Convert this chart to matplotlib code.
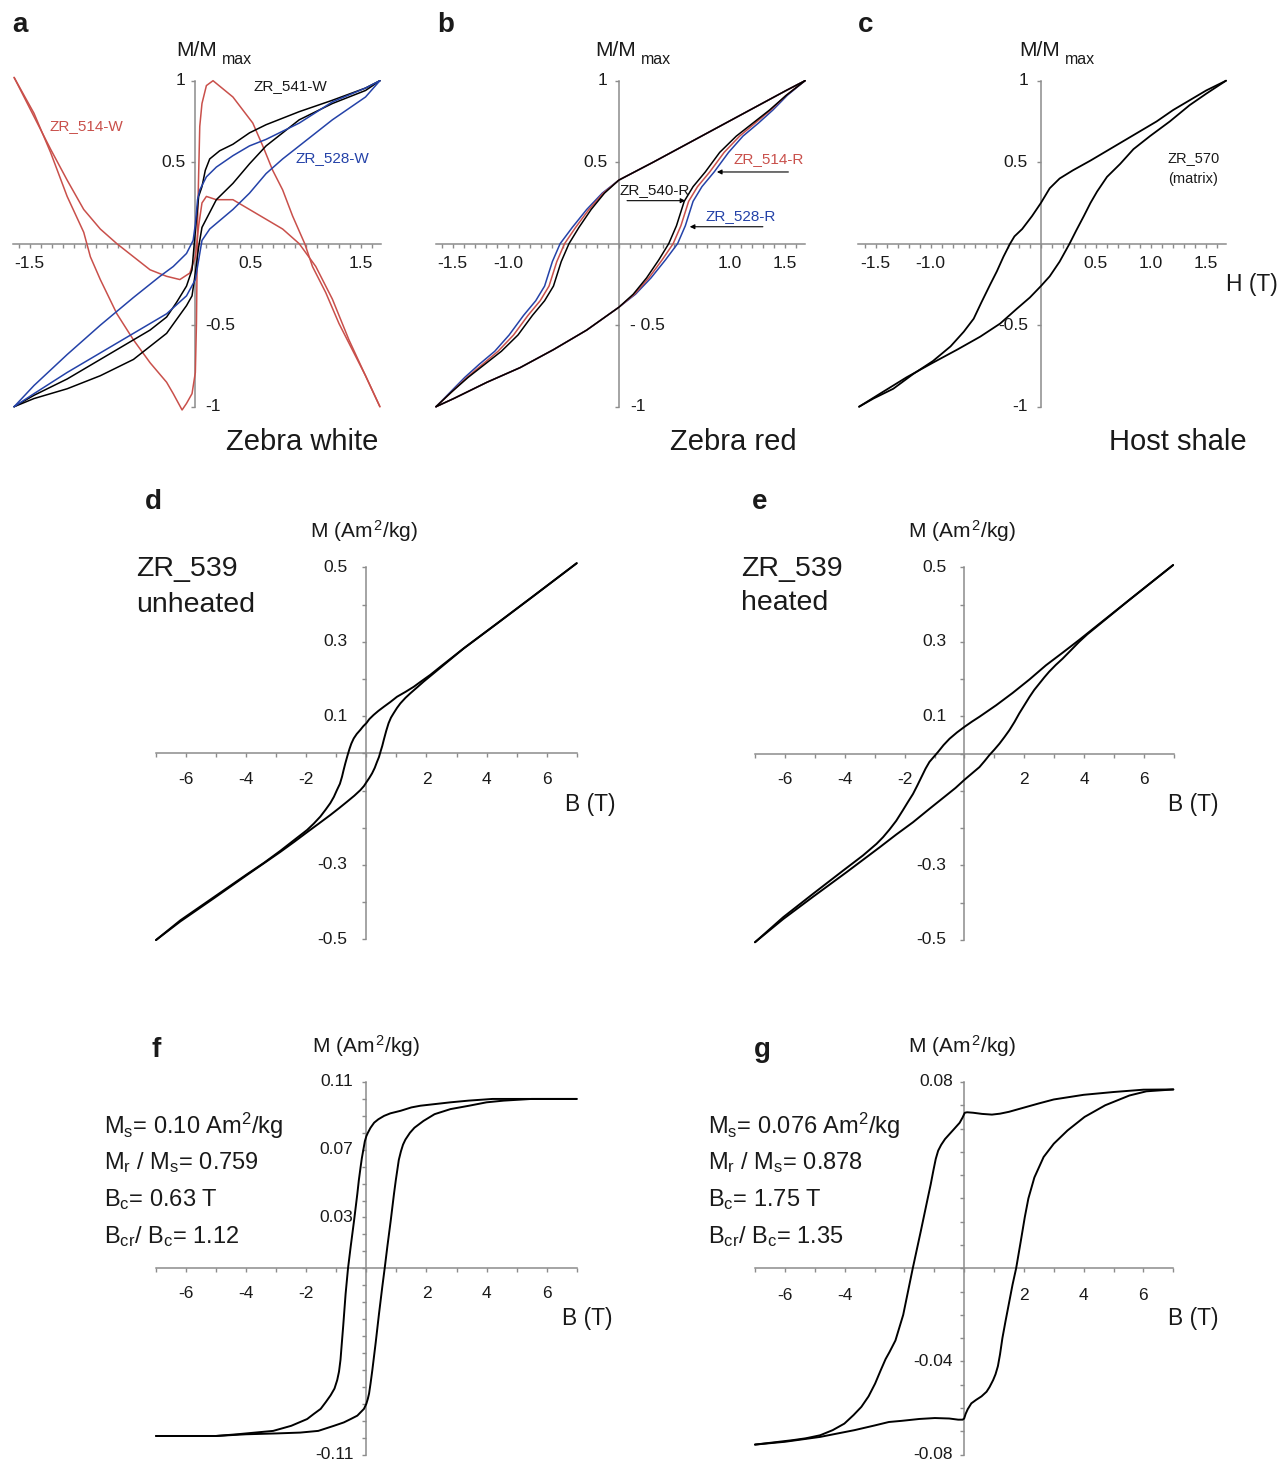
import matplotlib
matplotlib.use('Agg')
import matplotlib.pyplot as plt
import numpy as np
from matplotlib.ticker import FixedLocator, NullFormatter

plt.rcParams['font.family'] = ['Liberation Sans', 'DejaVu Sans']
plt.rcParams['mathtext.fontset'] = 'custom'
plt.rcParams['mathtext.rm'] = 'Liberation Sans'
plt.rcParams['mathtext.it'] = 'Liberation Sans:italic'
plt.rcParams['mathtext.bf'] = 'Liberation Sans:bold'

# ---------------- data ----------------
# Panel a : Zebra white (normalised)
a_black_up_x = [1.67, 1.54, 1.24, 0.94, 0.64, 0.49, 0.34, 0.22, 0.13, 0.09, 0.06, 0.03, 0.01, -0.01, -0.03, -0.08, -0.17, -0.26, -0.41, -0.56, -0.86, -1.16, -1.46, -1.64]
a_black_up_y = [1.0, 0.955, 0.88, 0.81, 0.73, 0.68, 0.61, 0.57, 0.52, 0.45, 0.35, 0.29, 0.15, 0.0, -0.16, -0.26, -0.36, -0.45, -0.53, -0.59, -0.71, -0.83, -0.93, -1.0]
a_black_lo_x = [-1.64, -1.46, -1.16, -0.86, -0.56, -0.26, -0.08, -0.03, 0.0, 0.03, 0.06, 0.19, 0.34, 0.49, 0.64, 0.94, 1.24, 1.54, 1.67]
a_black_lo_y = [-1.0, -0.95, -0.89, -0.81, -0.71, -0.55, -0.38, -0.32, -0.18, -0.02, 0.1, 0.27, 0.37, 0.49, 0.6, 0.76, 0.86, 0.94, 1.0]
a_blue_up_x = [1.67, 1.54, 1.24, 0.94, 0.64, 0.49, 0.34, 0.19, 0.1, 0.04, 0.02, 0.0, -0.02, -0.08, -0.2, -0.32, -0.56, -0.86, -1.16, -1.46, -1.64]
a_blue_up_y = [1.0, 0.955, 0.87, 0.74, 0.64, 0.6, 0.54, 0.47, 0.41, 0.33, 0.27, 0.12, 0.02, -0.06, -0.14, -0.2, -0.33, -0.5, -0.68, -0.87, -1.0]
a_blue_lo_x = [-1.64, -1.46, -1.16, -0.86, -0.56, -0.26, -0.08, 0.0, 0.03, 0.06, 0.13, 0.34, 0.49, 0.64, 0.79, 0.94, 1.24, 1.54, 1.67]
a_blue_lo_y = [-1.0, -0.92, -0.79, -0.67, -0.55, -0.43, -0.32, -0.22, -0.1, 0.02, 0.09, 0.21, 0.31, 0.43, 0.52, 0.6, 0.76, 0.9, 1.0]
a_red_a_x = [1.67, 1.54, 1.42, 1.3, 1.18, 1.06, 0.99, 0.88, 0.79, 0.7, 0.61, 0.52, 0.43, 0.34, 0.25, 0.16, 0.1, 0.06, 0.04, 0.03, 0.02, 0.015, 0.01, 0.0, -0.03, -0.08, -0.12, -0.2, -0.26, -0.41, -0.56, -0.71, -0.86, -0.95, -1.01, -1.16, -1.31, -1.46, -1.64]
a_red_a_y = [-1.0, -0.81, -0.65, -0.49, -0.3, -0.14, 0.0, 0.17, 0.33, 0.45, 0.6, 0.74, 0.82, 0.9, 0.95, 1.0, 0.97, 0.86, 0.72, 0.43, 0.13, -0.18, -0.49, -0.79, -0.92, -0.98, -1.02, -0.92, -0.85, -0.73, -0.59, -0.43, -0.22, -0.08, 0.07, 0.29, 0.56, 0.8, 1.02]
a_red_b_x = [-1.64, -1.46, -1.31, -1.16, -1.01, -0.86, -0.71, -0.56, -0.41, -0.26, -0.14, -0.05, 0.0, 0.03, 0.06, 0.1, 0.19, 0.34, 0.49, 0.64, 0.79, 0.94, 1.09, 1.24, 1.39, 1.54, 1.67]
a_red_b_y = [1.02, 0.78, 0.58, 0.39, 0.21, 0.09, 0.0, -0.08, -0.16, -0.2, -0.22, -0.18, -0.08, 0.11, 0.25, 0.29, 0.27, 0.27, 0.21, 0.15, 0.09, 0.0, -0.14, -0.34, -0.59, -0.81, -1.0]

# Panel b : Zebra red (normalised)
b_up_y = [1.0, 0.94, 0.83, 0.72, 0.61, 0.5, 0.39, 0.31, 0.21, 0.1, 0.0, -0.11, -0.26, -0.35, -0.44, -0.56, -0.66, -0.74, -0.82, -0.91, -1.0]
b_black_up_x = [1.68, 1.51, 1.21, 0.91, 0.61, 0.31, 0.0, -0.13, -0.25, -0.36, -0.45, -0.52, -0.59, -0.67, -0.78, -0.91, -1.06, -1.21, -1.36, -1.51, -1.65]
b_red_up_x = [1.68, 1.51, 1.21, 0.91, 0.61, 0.31, 0.0, -0.14, -0.27, -0.39, -0.49, -0.56, -0.63, -0.71, -0.82, -0.95, -1.09, -1.23, -1.37, -1.51, -1.65]
b_blue_up_x = [1.68, 1.51, 1.21, 0.91, 0.61, 0.31, 0.0, -0.15, -0.29, -0.42, -0.53, -0.6, -0.67, -0.75, -0.86, -0.99, -1.12, -1.26, -1.39, -1.52, -1.65]
b_lo_y = [-1.0, -0.95, -0.85, -0.76, -0.65, -0.53, -0.39, -0.31, -0.21, -0.1, 0.0, 0.11, 0.26, 0.35, 0.44, 0.56, 0.66, 0.74, 0.82, 0.91, 1.0]
b_black_lo_x = [-1.65, -1.49, -1.19, -0.89, -0.59, -0.29, 0.0, 0.13, 0.25, 0.36, 0.45, 0.52, 0.59, 0.67, 0.78, 0.91, 1.06, 1.21, 1.36, 1.51, 1.68]
b_red_lo_x = [-1.65, -1.49, -1.19, -0.89, -0.59, -0.29, 0.0, 0.14, 0.27, 0.39, 0.49, 0.56, 0.63, 0.71, 0.82, 0.95, 1.09, 1.23, 1.37, 1.51, 1.68]
b_blue_lo_x = [-1.65, -1.49, -1.19, -0.89, -0.59, -0.29, 0.0, 0.15, 0.29, 0.42, 0.53, 0.6, 0.67, 0.75, 0.86, 0.99, 1.12, 1.26, 1.39, 1.52, 1.68]

# Panel c : Host shale (normalised)
c_up_x = [1.68, 1.5, 1.35, 1.2, 1.05, 0.9, 0.75, 0.6, 0.45, 0.29, 0.17, 0.08, 0.0, -0.08, -0.17, -0.24, -0.28, -0.34, -0.4, -0.46, -0.54, -0.61, -0.7, -0.82, -0.98, -1.16, -1.34, -1.52, -1.65]
c_up_y = [1.0, 0.94, 0.88, 0.82, 0.75, 0.69, 0.63, 0.57, 0.51, 0.45, 0.4, 0.34, 0.25, 0.17, 0.09, 0.045, 0.0, -0.08, -0.17, -0.25, -0.36, -0.46, -0.54, -0.63, -0.72, -0.8, -0.89, -0.95, -1.0]
c_lo_x = [-1.65, -1.46, -1.22, -0.98, -0.76, -0.55, -0.37, -0.22, -0.1, 0.0, 0.08, 0.17, 0.26, 0.32, 0.39, 0.45, 0.51, 0.6, 0.72, 0.84, 0.99, 1.17, 1.35, 1.5, 1.68]
c_lo_y = [-1.0, -0.92, -0.82, -0.73, -0.65, -0.57, -0.49, -0.4, -0.33, -0.26, -0.2, -0.11, 0.0, 0.08, 0.17, 0.25, 0.32, 0.41, 0.49, 0.58, 0.66, 0.75, 0.85, 0.92, 1.0]

# Panel d : ZR_539 unheated (Am2/kg)
d_up_x = [7.0, 5.5, 4.35, 3.24, 2.5, 2.13, 1.8, 1.58, 1.3, 1.02, 0.8, 0.58, 0.4, 0.24, 0.1, 0.0, -0.1, -0.2, -0.32, -0.42, -0.5, -0.56, -0.62, -0.7, -0.76, -0.81, -0.88, -0.98, -1.08, -1.2, -1.36, -1.53, -1.75, -1.97, -2.4, -2.86, -3.4, -3.97, -5.08, -6.19, -7.0]
d_up_y = [0.511, 0.419, 0.349, 0.282, 0.235, 0.211, 0.192, 0.179, 0.165, 0.152, 0.138, 0.125, 0.114, 0.103, 0.092, 0.081, 0.073, 0.063, 0.052, 0.04, 0.026, 0.012, -0.004, -0.027, -0.046, -0.063, -0.082, -0.099, -0.117, -0.134, -0.152, -0.17, -0.189, -0.206, -0.233, -0.262, -0.294, -0.325, -0.387, -0.449, -0.502]
d_lo_x = [-7.0, -6.19, -5.08, -3.97, -2.86, -2.4, -1.97, -1.6, -1.2, -0.9, -0.64, -0.4, -0.2, -0.08, 0.0, 0.1, 0.19, 0.28, 0.35, 0.42, 0.47, 0.53, 0.58, 0.66, 0.74, 0.82, 0.91, 1.02, 1.13, 1.3, 1.46, 1.7, 1.91, 2.24, 3.24, 4.35, 5.5, 7.0]
d_lo_y = [-0.502, -0.452, -0.39, -0.327, -0.265, -0.238, -0.212, -0.19, -0.166, -0.147, -0.13, -0.114, -0.099, -0.088, -0.078, -0.066, -0.054, -0.039, -0.024, -0.01, 0.004, 0.02, 0.036, 0.06, 0.081, 0.096, 0.108, 0.122, 0.134, 0.149, 0.161, 0.178, 0.193, 0.215, 0.282, 0.349, 0.419, 0.511]

# Panel e : ZR_539 heated (Am2/kg)
e_up_x = [6.97, 5.5, 4.39, 3.83, 3.28, 2.72, 2.17, 1.61, 1.06, 0.5, 0.25, 0.0, -0.25, -0.5, -0.7, -0.89, -1.03, -1.17, -1.3, -1.44, -1.58, -1.72, -1.9, -2.06, -2.28, -2.5, -2.72, -2.94, -3.39, -4.06, -5.06, -6.06, -7.0]
e_up_y = [0.506, 0.412, 0.341, 0.305, 0.271, 0.237, 0.199, 0.163, 0.13, 0.099, 0.086, 0.072, 0.057, 0.04, 0.023, 0.004, -0.009, -0.022, -0.04, -0.063, -0.086, -0.108, -0.131, -0.152, -0.18, -0.203, -0.224, -0.242, -0.273, -0.314, -0.376, -0.439, -0.506]
e_lo_x = [-7.0, -6.06, -5.06, -3.94, -2.83, -2.28, -1.72, -1.17, -0.61, -0.3, 0.0, 0.25, 0.5, 0.67, 0.83, 1.0, 1.17, 1.33, 1.5, 1.67, 1.83, 2.0, 2.17, 2.33, 2.5, 2.67, 2.83, 3.05, 3.28, 3.55, 3.83, 4.1, 4.39, 5.5, 6.97]
e_lo_y = [-0.506, -0.444, -0.384, -0.318, -0.251, -0.217, -0.184, -0.148, -0.112, -0.092, -0.07, -0.053, -0.036, -0.02, -0.004, 0.011, 0.027, 0.044, 0.063, 0.085, 0.108, 0.13, 0.152, 0.171, 0.188, 0.205, 0.22, 0.238, 0.255, 0.277, 0.3, 0.32, 0.339, 0.412, 0.506]

# Panel f : unheated, paramagnetic-corrected (Am2/kg)
f_up_x = [7.0, 5.0, 4.2, 3.4, 2.8, 2.3, 1.8, 1.5, 1.14, 0.8, 0.59, 0.4, 0.26, 0.14, 0.05, 0.0, -0.05, -0.1, -0.15, -0.19, -0.25, -0.3, -0.41, -0.52, -0.61, -0.69, -0.77, -0.82, -0.86, -0.91, -0.97, -1.06, -1.19, -1.35, -1.52, -1.75, -1.97, -2.5, -3.1, -3.7, -4.3, -5.0, -7.0]
f_up_y = [0.1, 0.1, 0.1, 0.099, 0.098, 0.097, 0.096, 0.095, 0.093, 0.0915, 0.09, 0.088, 0.086, 0.083, 0.08, 0.078, 0.075, 0.07, 0.065, 0.06, 0.052, 0.044, 0.028, 0.013, 0.0, -0.015, -0.034, -0.045, -0.054, -0.061, -0.066, -0.071, -0.075, -0.079, -0.083, -0.086, -0.089, -0.093, -0.096, -0.097, -0.098, -0.099, -0.099]
f_lo_x = [-7.0, -5.0, -4.0, -3.0, -2.2, -1.6, -1.08, -0.75, -0.52, -0.3, -0.19, -0.08, 0.0, 0.05, 0.09, 0.14, 0.2, 0.31, 0.42, 0.53, 0.61, 0.7, 0.81, 0.92, 0.98, 1.03, 1.08, 1.15, 1.22, 1.3, 1.45, 1.6, 1.9, 2.27, 2.8, 3.42, 4.0, 4.57, 5.5, 7.0]
f_lo_y = [-0.099, -0.099, -0.098, -0.0975, -0.097, -0.096, -0.093, -0.091, -0.089, -0.087, -0.085, -0.083, -0.08, -0.077, -0.074, -0.068, -0.06, -0.044, -0.027, -0.011, 0.0, 0.013, 0.028, 0.044, 0.052, 0.058, 0.064, 0.069, 0.073, 0.076, 0.08, 0.083, 0.087, 0.091, 0.094, 0.096, 0.098, 0.099, 0.1, 0.1]

# Panel g : heated, paramagnetic-corrected (Am2/kg)
g_up_x = [7.0, 6.0, 5.0, 4.0, 3.0, 2.5, 2.0, 1.5, 1.2, 0.93, 0.6, 0.3, 0.1, 0.02, -0.05, -0.15, -0.31, -0.5, -0.64, -0.77, -0.87, -0.95, -1.03, -1.12, -1.22, -1.45, -1.72, -2.04, -2.3, -2.5, -2.63, -2.8, -2.98, -3.2, -3.44, -3.7, -4.01, -4.4, -4.82, -5.3, -5.74, -6.4, -7.0]
g_up_y = [0.0768, 0.0767, 0.0757, 0.0745, 0.0725, 0.0708, 0.069, 0.0672, 0.0664, 0.066, 0.0663, 0.0668, 0.067, 0.0668, 0.0648, 0.0625, 0.0602, 0.0575, 0.0555, 0.053, 0.0505, 0.047, 0.042, 0.036, 0.03, 0.016, 0.0, -0.02, -0.031, -0.036, -0.039, -0.044, -0.0495, -0.055, -0.0595, -0.063, -0.0667, -0.0695, -0.0717, -0.073, -0.0738, -0.0748, -0.0757]
g_lo_x = [-7.0, -6.0, -4.82, -3.67, -3.0, -2.52, -2.09, -1.5, -0.98, -0.5, -0.2, -0.05, 0.0, 0.05, 0.12, 0.24, 0.4, 0.58, 0.75, 0.85, 0.97, 1.05, 1.13, 1.2, 1.28, 1.38, 1.5, 1.62, 1.74, 1.9, 2.03, 2.15, 2.35, 2.66, 3.0, 3.46, 4.03, 4.72, 5.53, 6.1, 7.0]
g_lo_y = [-0.0757, -0.0745, -0.0724, -0.0695, -0.0675, -0.066, -0.0655, -0.0647, -0.0643, -0.0645, -0.065, -0.065, -0.0645, -0.0625, -0.0605, -0.058, -0.0565, -0.055, -0.053, -0.051, -0.048, -0.0455, -0.042, -0.037, -0.03, -0.023, -0.015, -0.007, 0.0, 0.012, 0.022, 0.03, 0.039, 0.0478, 0.0535, 0.0592, 0.065, 0.07, 0.0742, 0.076, 0.0768]

# tick labels
a_xlab = ['-1.5', '0.5', '1.5']
b_xlab = ['-1.5', '-1.0', '1.0', '1.5']
c_xlab = ['-1.5', '-1.0', '0.5', '1.0', '1.5']
a_ylab = ['1', '0.5', '-0.5', '-1']
b_ylab = ['1', '0.5', '- 0.5', '-1']
c_ylab = ['1', '0.5', '-0.5', '-1']
de_xlab = ['-6', '-4', '-2', '2', '4', '6']
g_xlab = ['-6', '-4', '2', '4', '6']
de_ylab = ['0.5', '0.3', '0.1', '-0.3', '-0.5']
f_ylab = ['0.11', '0.07', '0.03', '-0.11']
g_ylab = ['0.08', '-0.04', '-0.08']
f_stats = [r'M$_{\mathrm{s}}$= 0.10 Am$^{2}$/kg', r'M$_{\mathrm{r}}$ / M$_{\mathrm{s}}$= 0.759',
           r'B$_{\mathrm{c}}$= 0.63 T', r'B$_{\mathrm{cr}}$/ B$_{\mathrm{c}}$= 1.12']
g_stats = [r'M$_{\mathrm{s}}$= 0.076 Am$^{2}$/kg', r'M$_{\mathrm{r}}$ / M$_{\mathrm{s}}$= 0.878',
           r'B$_{\mathrm{c}}$= 1.75 T', r'B$_{\mathrm{cr}}$/ B$_{\mathrm{c}}$= 1.35']

# ---------------- styling ----------------
W, H = 1281, 1462
fig = plt.figure(figsize=(W / 100, H / 100), dpi=100)
RED = '#C9504B'
BLUE = '#2442A8'
AXC = '#8C8C8C'
TXT = '#1A1A1A'
PT = 0.72  # points per pixel


def make_axes(xlim, ylim, pxx, pyy, xticks, yticks):
    x0, x1 = pxx
    ytop, ybot = pyy
    ax = fig.add_axes([x0 / W, 1 - ybot / H, (x1 - x0) / W, (ybot - ytop) / H])
    ax.set_xlim(*xlim)
    ax.set_ylim(*ylim)
    ax.patch.set_alpha(0)
    for s in ['top', 'right']:
        ax.spines[s].set_visible(False)
    for s in ['left', 'bottom']:
        ax.spines[s].set_position(('data', 0))
        ax.spines[s].set_color(AXC)
        ax.spines[s].set_linewidth(1.1)
        ax.spines[s].set_zorder(1)
    ax.xaxis.set_major_locator(FixedLocator(xticks))
    ax.yaxis.set_major_locator(FixedLocator(yticks))
    ax.xaxis.set_major_formatter(NullFormatter())
    ax.yaxis.set_major_formatter(NullFormatter())
    ax.tick_params(colors=AXC, length=3.0, width=1.0, direction='out')
    return ax


def xlabels(ax, vals, texts, dy, fs):
    for v, t in zip(vals, texts):
        ax.annotate(t, xy=(v, 0), xytext=(0, -dy * PT), textcoords='offset points',
                    ha='center', va='center', fontsize=fs, color=TXT, annotation_clip=False)


def ylabels(ax, vals, texts, sides, dx, fs):
    for v, t, s in zip(vals, texts, sides):
        off = -dx if s == 'L' else dx
        ax.annotate(t, xy=(0, v), xytext=(off * PT, 0), textcoords='offset points',
                    ha='right' if s == 'L' else 'left', va='center', fontsize=fs,
                    color=TXT, annotation_clip=False)


def curve(ax, x, y, color='k', lw=1.1):
    ax.plot(x, y, color=color, lw=lw, clip_on=False, zorder=3,
            solid_joinstyle='round', solid_capstyle='round')


def ftext(px, py, s, **kw):
    fig.text(px / W, 1 - py / H, s, **kw)


top_xt = [round(v, 1) for v in np.arange(-1.6, 1.65, 0.1)]
top_yt = [1, 0.5, -0.5, -1]

# ---- a ----
axa = make_axes((-1.65, 1.68), (-1, 1), (13, 381), (80.7, 406.7), top_xt, top_yt)
curve(axa, a_red_a_x, a_red_a_y, RED)
curve(axa, a_red_b_x, a_red_b_y, RED)
curve(axa, a_black_up_x, a_black_up_y, 'k')
curve(axa, a_black_lo_x, a_black_lo_y, 'k')
curve(axa, a_blue_up_x, a_blue_up_y, BLUE)
curve(axa, a_blue_lo_x, a_blue_lo_y, BLUE)
xlabels(axa, [-1.5, 0.5, 1.5], a_xlab, 20, 12.5)
ylabels(axa, [1, 0.5, -0.5, -1], a_ylab, ['L', 'L', 'R', 'R'], 10, 12.5)

# ---- b ----
axb = make_axes((-1.65, 1.68), (-1, 1), (436, 805), (80.7, 406.7), top_xt, top_yt)
curve(axb, b_blue_up_x, b_up_y, BLUE)
curve(axb, b_blue_lo_x, b_lo_y, BLUE)
curve(axb, b_red_up_x, b_up_y, RED)
curve(axb, b_red_lo_x, b_lo_y, RED)
curve(axb, b_black_up_x, b_up_y, 'k')
curve(axb, b_black_lo_x, b_lo_y, 'k')
xlabels(axb, [-1.5, -1.0, 1.0, 1.5], b_xlab, 20, 12.5)
ylabels(axb, [1, 0.5, -0.5, -1], b_ylab, ['L', 'L', 'R', 'R'], 11, 12.5)
arr = dict(arrowstyle='-|>', color='k', lw=0.8, mutation_scale=7, shrinkA=0, shrinkB=0)
axb.annotate('', xy=(0.885, 0.44), xytext=(1.53, 0.44), arrowprops=arr)
axb.annotate('', xy=(0.6, 0.264), xytext=(0.074, 0.264), arrowprops=arr)
axb.annotate('', xy=(0.64, 0.104), xytext=(1.3, 0.104), arrowprops=arr)

# ---- c ----
axc = make_axes((-1.66, 1.68), (-1, 1), (858, 1226), (80.7, 406.7), top_xt, top_yt)
curve(axc, c_up_x, c_up_y, 'k', 1.3)
curve(axc, c_lo_x, c_lo_y, 'k', 1.3)
xlabels(axc, [-1.5, -1.0, 0.5, 1.0, 1.5], c_xlab, 20, 12.5)
ylabels(axc, [1, 0.5, -0.5, -1], c_ylab, ['L'] * 4, 13, 12.5)

# ---- d ----
de_xt = list(range(-7, 8))
de_yt = [round(v, 1) for v in np.arange(-0.5, 0.55, 0.1)]
axd = make_axes((-7, 7), (-0.5, 0.5), (156, 576.7), (567.3, 939.3), de_xt, de_yt)
curve(axd, d_up_x, d_up_y, 'k', 1.4)
curve(axd, d_lo_x, d_lo_y, 'k', 1.4)
xlabels(axd, [-6, -4, -2, 2, 4, 6], de_xlab, 26, 12.5)
ylabels(axd, [0.5, 0.3, 0.1, -0.3, -0.5], de_ylab, ['L'] * 5, 19, 12.5)

# ---- e ----
axe = make_axes((-7, 7), (-0.5, 0.5), (755, 1174), (567.3, 940), de_xt, de_yt)
curve(axe, e_up_x, e_up_y, 'k', 1.4)
curve(axe, e_lo_x, e_lo_y, 'k', 1.4)
xlabels(axe, [-6, -4, -2, 2, 4, 6], de_xlab, 26, 12.5)
ylabels(axe, [0.5, 0.3, 0.1, -0.3, -0.5], de_ylab, ['L'] * 5, 18, 12.5)

# ---- f ----
f_yt = [round(v, 2) for v in np.arange(-0.11, 0.115, 0.01)]
axf = make_axes((-7, 7), (-0.11, 0.11), (156, 576.7), (1082, 1454.6), de_xt, f_yt)
curve(axf, f_up_x, f_up_y, 'k', 1.4)
curve(axf, f_lo_x, f_lo_y, 'k', 1.4)
xlabels(axf, [-6, -4, -2, 2, 4, 6], de_xlab, 25, 12.5)
ylabels(axf, [0.11, 0.07, 0.03, -0.11], f_ylab, ['L'] * 4, 13, 12.5)

# ---- g ----
g_yt = [round(v, 2) for v in np.arange(-0.08, 0.085, 0.01)]
axg = make_axes((-7, 7), (-0.08, 0.08), (755, 1173.3), (1082, 1454.6), de_xt, g_yt)
curve(axg, g_up_x, g_up_y, 'k', 1.4)
curve(axg, g_lo_x, g_lo_y, 'k', 1.4)
xlabels(axg, [-6, -4, 2, 4, 6], g_xlab, 27, 12.5)
ylabels(axg, [0.08, -0.04, -0.08], g_ylab, ['L'] * 3, 11, 12.5)

# ---------------- texts ----------------
for lab, px, py in [('a', 20, 25), ('b', 446, 25), ('c', 866, 25), ('d', 153, 502),
                    ('e', 760, 502), ('f', 156, 1050), ('g', 762, 1050)]:
    ftext(px, py, lab, fontsize=20, fontweight='bold', ha='center', va='center', color=TXT)

for px in [176, 595, 1019]:
    ftext(px, 51, 'M/M', fontsize=15, ha='left', va='center', color=TXT)
    ftext(px + 46, 59, 'max', fontsize=11.5, ha='left', va='center', color=TXT)

ftext(302, 442, 'Zebra white', fontsize=21, ha='center', va='center', color=TXT)
ftext(733, 442, 'Zebra red', fontsize=21, ha='center', va='center', color=TXT)
ftext(1178, 442, 'Host shale', fontsize=21, ha='center', va='center', color=TXT)

ftext(50, 126, 'ZR_514-W', fontsize=11, color=RED, ha='left', va='center')
ftext(254, 86, 'ZR_541-W', fontsize=11, color=TXT, ha='left', va='center')
ftext(295, 158, 'ZR_528-W', fontsize=11, color=BLUE, ha='left', va='center')
ftext(733, 159, 'ZR_514-R', fontsize=11, color=RED, ha='left', va='center')
ftext(619, 190, 'ZR_540-R', fontsize=11, color=TXT, ha='left', va='center')
ftext(706, 216, 'ZR_528-R', fontsize=11, color=BLUE, ha='left', va='center')
ftext(1168, 158, 'ZR_570', fontsize=10.5, color=TXT, ha='left', va='center')
ftext(1168, 179, '(matrix)', fontsize=10.5, color=TXT, ha='left', va='center')
ftext(1226, 285, 'H (T)', fontsize=16.5, color=TXT, ha='left', va='center')

for px, py in [(310, 531), (908, 531), (312, 1046), (908, 1046)]:
    ftext(px, py, r'M (Am$^{\,2}$/kg)', fontsize=15, ha='left', va='center', color=TXT)
for px, py in [(565, 804), (1168, 804), (562, 1318), (1168, 1318)]:
    ftext(px, py, 'B (T)', fontsize=16.5, ha='left', va='center', color=TXT)

ftext(136, 569, 'ZR_539', fontsize=20.5, ha='left', va='center', color=TXT)
ftext(136, 605, 'unheated', fontsize=20.5, ha='left', va='center', color=TXT)
ftext(741, 569, 'ZR_539', fontsize=20.5, ha='left', va='center', color=TXT)
ftext(741, 603, 'heated', fontsize=20.5, ha='left', va='center', color=TXT)

for i, s in enumerate(f_stats):
    ftext(104, 1126 + i * 36.7, s, fontsize=17, ha='left', va='center', color=TXT)
for i, s in enumerate(g_stats):
    ftext(708, 1126 + i * 36.7, s, fontsize=17, ha='left', va='center', color=TXT)

fig.savefig('out.png', dpi=100)
